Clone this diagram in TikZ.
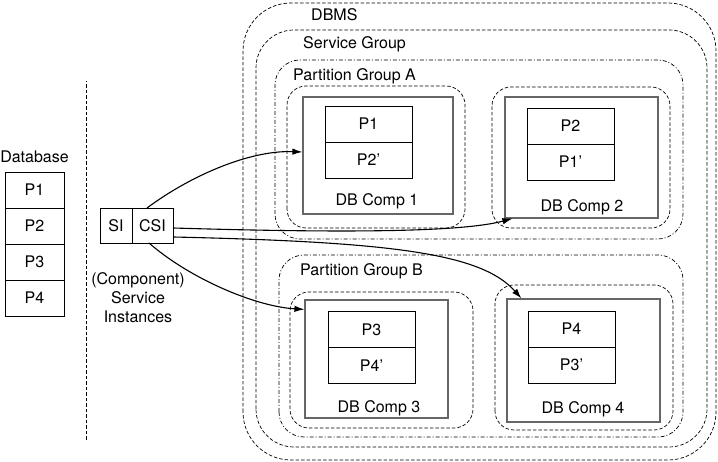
\documentclass[tikz,border=0pt]{standalone}
\usepackage{fontspec}
\setmainfont{TeX Gyre Heros}
\usetikzlibrary{positioning,arrows.meta}

\tikzset{
  txt/.style={inner sep=0pt, text height=11.5pt, text depth=0pt},
  lbl/.style={txt, anchor=west},
  pbox/.style={draw, line width=0.8pt, minimum width=87pt, minimum height=36pt,
    inner sep=0pt, outer sep=0pt, text height=11.5pt, text depth=0pt},
  compbox/.style={draw=black!60, line width=1.2pt, inner sep=0pt},
  grpframe/.style={line width=0.7pt, dash pattern=on 3.5pt off 2pt},
  partframe/.style={line width=0.7pt, dash pattern=on 4pt off 2pt on 1pt off 2pt},
  csiarrow/.style={line width=1.1pt, -{Latex[length=10pt,width=6.5pt]}}
}

\begin{document}
\begin{tikzpicture}[x=1pt,y=1pt,font=\fontsize{16}{19}\selectfont]
  \useasboundingbox (0,0) rectangle (718,462);

  %% Database
  \node[txt] (dbtitle) at (34.5,305) {Database};
  \node[pbox, minimum width=59pt] (db1) at (34.5,272) {P1};
  \node[pbox, minimum width=59pt, below=0pt of db1] (db2) {P2};
  \node[pbox, minimum width=59pt, below=0pt of db2] (db3) {P3};
  \node[pbox, minimum width=59pt, below=0pt of db3] (db4) {P4};

  \draw[grpframe] (86,22) -- (86,381);

  %% SI / CSI
  \node[pbox, minimum width=32pt, minimum height=35pt] (si) at (116,236.5) {SI};
  \node[pbox, minimum width=41pt, minimum height=35pt, right=0pt of si] (csi) {CSI};
  \node[align=center, inner sep=0pt] (csilbl) at (138,164) {(Component)\\Service\\Instances};

  %% DBMS / service group / partition groups
  \draw[grpframe, rounded corners=48pt] (243,2) rectangle (716,459);
  \draw[grpframe, rounded corners=38pt] (256,15) rectangle (707,432);
  \draw[partframe, rounded corners=25pt] (275,223) rectangle (683,402);
  \draw[partframe, rounded corners=25pt] (279,25) rectangle (683,207);
  \node[lbl] (dbms) at (311,447) {DBMS};
  \node[lbl] (sg) at (303,419) {Service Group};
  \node[lbl] (pga) at (293,387) {Partition Group A};
  \node[lbl] (pgb) at (300,192) {Partition Group B};

  %% components
  \draw[grpframe, rounded corners=19pt] (287,234) rectangle (465,376);
  \draw[grpframe, rounded corners=19pt] (492,234) rectangle (670,375);
  \draw[grpframe, rounded corners=19pt] (290,34) rectangle (473,170);
  \draw[grpframe, rounded corners=19pt] (495,32) rectangle (673,177);

  \node[compbox, minimum width=150pt, minimum height=117pt] (comp1) at (378,306.5) {};
  \node[pbox] (c1a) at (368.5,338) {P1};
  \node[pbox, below=0pt of c1a] (c1b) {P2'};
  \node[txt] (c1lbl) at (377,262) {DB Comp 1};

  \node[compbox, minimum width=153pt, minimum height=121pt] (comp2) at (581.5,304.5) {};
  \node[pbox] (c2a) at (570.5,336) {P2};
  \node[pbox, below=0pt of c2a] (c2b) {P1'};
  \node[txt] (c2lbl) at (582,256) {DB Comp 2};

  \node[compbox, minimum width=143pt, minimum height=118pt] (comp3) at (376.5,103) {};
  \node[pbox] (c3a) at (371.5,132.5) {P3};
  \node[pbox, below=0pt of c3a] (c3b) {P4'};
  \node[txt] (c3lbl) at (379,55) {DB Comp 3};

  \node[compbox, minimum width=153pt, minimum height=123pt] (comp4) at (583.5,101.5) {};
  \node[pbox] (c4a) at (571.5,133) {P4};
  \node[pbox, below=0pt of c4a] (c4b) {P3'};
  \node[txt] (c4lbl) at (583,54) {DB Comp 4};

  %% assignments
  \draw[csiarrow] ([xshift=-5.5pt]csi.north) .. controls +(43,32) and +(-53,2) .. ([yshift=3.5pt]comp1.west);
  \draw[csiarrow] ([yshift=-2.5pt]csi.east) .. controls +(200,-6) and +(-45,-12) .. ([xshift=8pt]comp2.south west);
  \draw[csiarrow] ([yshift=-11.5pt]csi.east) .. controls +(220,-5) and +(-40,45) .. ([xshift=15pt]comp4.north west);
  \draw[csiarrow] ([xshift=-3.5pt]csi.south) .. controls +(40,-35) and +(-50,3) .. ([yshift=-10pt]comp3.north west);

\end{tikzpicture}
\end{document}
